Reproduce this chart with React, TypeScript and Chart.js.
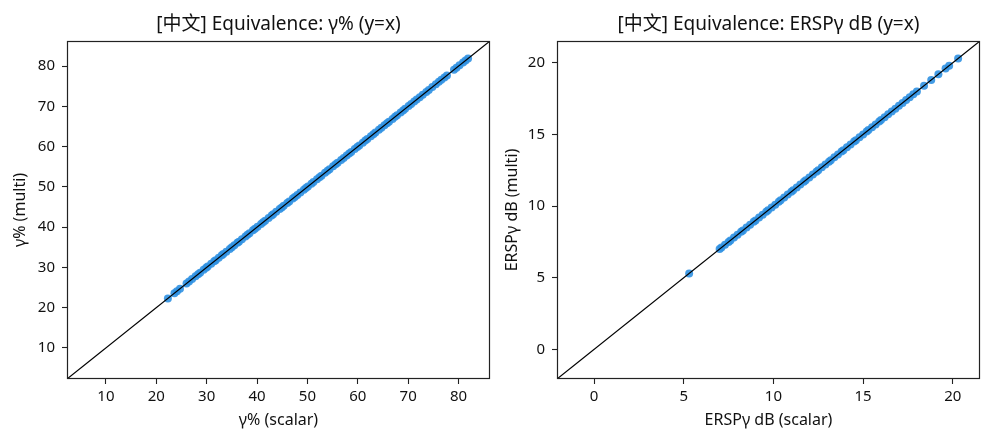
import React, { useEffect, useRef } from "react";
import { Chart, registerables } from "chart.js";

Chart.register(...registerables);

// ---- Data ----
const gammaPctValues: number[] = [
  22.3, 23.6, 24.1, 24.7, 26.0, 26.5, 27.1, 27.8, 28.3, 28.7, 29.4, 29.9, 30.2, 30.9, 31.5, 31.8,
  32.4, 33.0, 33.3, 33.9, 34.6, 35.0, 35.5, 36.1, 36.4, 37.0, 37.7, 38.1, 38.5, 39.2, 39.6, 40.1,
  40.8, 41.2, 41.6, 42.3, 42.9, 43.2, 43.8, 44.5, 44.9, 45.3, 46.0, 46.4, 47.1, 47.5, 48.0, 48.6,
  49.3, 49.7, 50.1, 50.8, 51.2, 51.9, 52.4, 52.8, 53.5, 54.0, 54.4, 55.1, 55.6, 56.0, 56.7, 57.2,
  57.8, 58.3, 58.7, 59.4, 59.9, 60.3, 61.0, 61.5, 61.9, 62.6, 63.1, 63.5, 64.2, 64.7, 65.3, 65.8,
  66.2, 66.9, 67.4, 67.8, 68.5, 69.0, 69.4, 70.1, 70.6, 71.2, 71.7, 72.3, 72.9, 73.6, 74.1, 74.8,
  75.5, 76.1, 76.6, 77.2, 77.7, 79.1, 79.6, 80.2, 80.9, 81.4, 81.9,
];
const erspDbValues: number[] = [
  5.3, 7.0, 7.1, 7.3, 7.5, 7.6, 7.8, 8.0, 8.2, 8.3, 8.5, 8.7, 8.9, 9.0, 9.2, 9.4, 9.6, 9.7, 9.9,
  10.1, 10.3, 10.4, 10.6, 10.8, 11.0, 11.1, 11.3, 11.5, 11.7, 11.8, 12.0, 12.2, 12.4, 12.5, 12.7,
  12.9, 13.1, 13.2, 13.4, 13.6, 13.8, 13.9, 14.1, 14.3, 14.5, 14.6, 14.8, 15.0, 15.2, 15.3, 15.5,
  15.7, 15.9, 16.0, 16.2, 16.4, 16.6, 16.8, 17.0, 17.2, 17.4, 17.6, 17.8, 18.0, 18.4, 18.8, 19.2,
  19.6, 19.8, 20.3,
];
const gammaPctLimits: number[] = [2.27, 86.25];
const erspDbLimits: number[] = [-2.07, 21.52];
const gammaPctTicks: number[] = [10, 20, 30, 40, 50, 60, 70, 80];
const erspDbTicks: number[] = [0, 5, 10, 15, 20];

const FONT = '"Noto Sans", "Noto Sans CJK SC", sans-serif';
const POINT_COLOR = "rgba(48, 145, 226, 0.9)";

const boxPlugin = {
  id: "boxFrame",
  afterDraw(chart: any) {
    const { ctx, chartArea } = chart;
    ctx.save();
    ctx.strokeStyle = "#222";
    ctx.lineWidth = 1.2;
    ctx.strokeRect(
      Math.round(chartArea.left) + 0.5,
      Math.round(chartArea.top) + 0.5,
      Math.round(chartArea.right - chartArea.left) - 1,
      Math.round(chartArea.bottom - chartArea.top) - 1
    );
    // axes title centred over the plot area, matplotlib style
    const text = chart.options.plugins.boxFrame?.title ?? "";
    ctx.fillStyle = "#111";
    ctx.font = `19px ${FONT}`;
    ctx.textAlign = "center";
    ctx.textBaseline = "middle";
    ctx.fillText(text, (chartArea.left + chartArea.right) / 2, 25);
    ctx.restore();
  },
};

type PanelProps = {
  title: string;
  xLabel: string;
  yLabel: string;
  values: number[];
  limits: number[];
  ticks: number[];
  yAxisWidth: number;
  rightPad: number;
  yTitlePad: number;
};

function Panel(props: PanelProps) {
  const ref = useRef<HTMLCanvasElement | null>(null);
  useEffect(() => {
    if (!ref.current) return;
    const [lo, hi] = props.limits;
    const tickSet = props.ticks;
    const axisCommon = (isX: boolean, label: string, size: number) => ({
      type: "linear" as const,
      min: lo,
      max: hi,
      afterBuildTicks: (axis: any) => {
        axis.ticks = tickSet.map((v) => ({ value: v }));
      },
      afterFit: (axis: any) => {
        if (isX) axis.height = size;
        else axis.width = size;
      },
      grid: {
        display: true,
        drawOnChartArea: false,
        drawTicks: true,
        tickLength: 5,
        tickColor: "#222",
        tickWidth: 1.1,
      },
      border: { display: false },
      ticks: {
        color: "#111",
        padding: isX ? 4 : 7,
        font: { family: FONT, size: 15 },
        maxRotation: 0,
        autoSkip: false,
        callback: (v: any) => String(v),
      },
      title: {
        display: true,
        text: label,
        color: "#111",
        font: { family: FONT, size: 16 },
        padding: isX ? { top: 0, bottom: 13 } : { top: props.yTitlePad, bottom: 0 },
      },
    });
    const chart = new Chart(ref.current, {
      type: "scatter",
      data: {
        datasets: [
          {
            type: "line",
            label: "y=x",
            data: [
              { x: lo, y: lo },
              { x: hi, y: hi },
            ],
            borderColor: "#000",
            borderWidth: 1.2,
            pointRadius: 0,
            fill: false,
            order: 0,
          } as any,
          {
            label: "points",
            data: props.values.map((v) => ({ x: v, y: v })),
            backgroundColor: POINT_COLOR,
            borderColor: POINT_COLOR,
            borderWidth: 0,
            pointRadius: 4,
            order: 1,
          },
        ],
      },
      options: {
        responsive: false,
        animation: false,
        layout: { padding: { left: 0, right: props.rightPad, top: 41, bottom: 0 } },
        plugins: {
          legend: { display: false },
          tooltip: { enabled: false },
          title: { display: false },
          boxFrame: { title: props.title },
        } as any,
        scales: {
          x: axisCommon(true, props.xLabel, 64) as any,
          y: axisCommon(false, props.yLabel, props.yAxisWidth) as any,
        },
      },
      plugins: [boxPlugin],
    });
    return () => chart.destroy();
  }, []);
  return <canvas ref={ref} width={498} height={443} style={{ display: "block" }} />;
}

export default function App() {
  return (
    <div
      style={{
        position: "fixed",
        left: 0,
        top: 0,
        width: 996,
        height: 443,
        display: "flex",
        background: "#fff",
      }}
    >
      <Panel
        title="[中文] Equivalence: γ% (y=x)"
        xLabel="γ% (scalar)"
        yLabel="γ% (multi)"
        values={gammaPctValues}
        limits={gammaPctLimits}
        ticks={gammaPctTicks}
        yAxisWidth={67}
        rightPad={8}
        yTitlePad={11}
      />
      <Panel
        title="[中文] Equivalence: ERSPγ dB (y=x)"
        xLabel="ERSPγ dB (scalar)"
        yLabel="ERSPγ dB (multi)"
        values={erspDbValues}
        limits={erspDbLimits}
        ticks={erspDbTicks}
        yAxisWidth={59}
        rightPad={16}
        yTitlePad={5}
      />
    </div>
  );
}
